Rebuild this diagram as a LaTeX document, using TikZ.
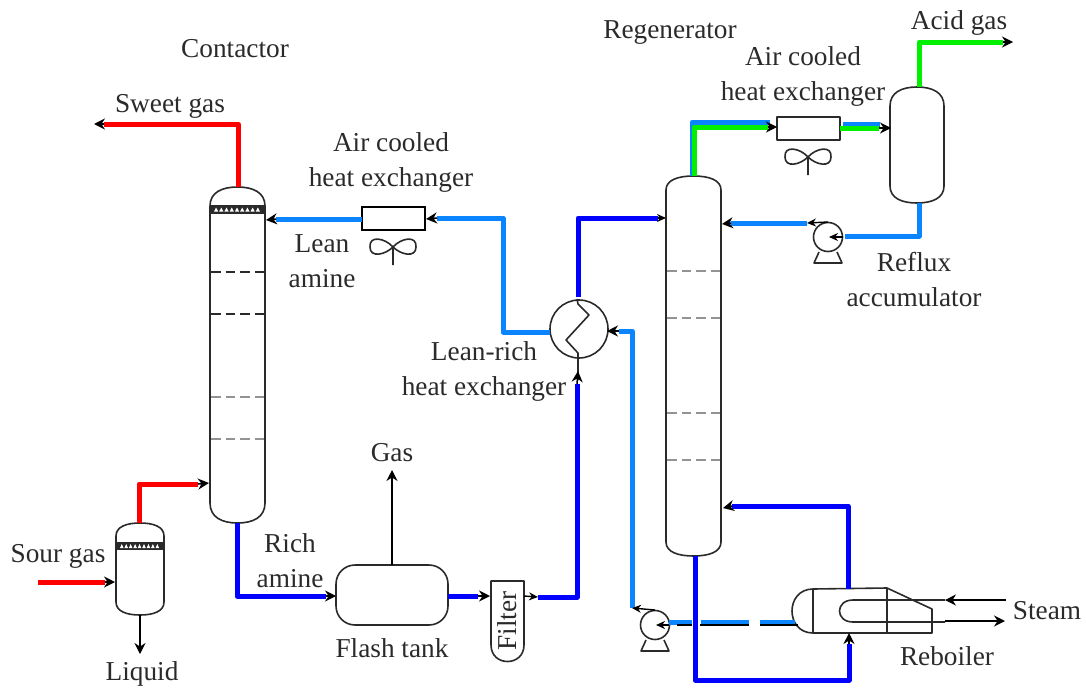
\documentclass[tikz,border=0pt]{standalone}
\usepackage{fontspec}
\setmainfont{Liberation Serif}
\usetikzlibrary{arrows.meta,calc}
\definecolor{ink}{HTML}{2A2A2A}
\definecolor{lblue}{HTML}{0A84FF}
\definecolor{dblue}{HTML}{0000FF}
\definecolor{fred}{HTML}{FF0000}
\definecolor{fgreen}{HTML}{00F000}
\tikzset{
  equip/.style={draw=ink,line width=1.6pt,line join=round},
  heavy/.style={draw=black,line width=2pt},
  trayk/.style={draw=ink,line width=1.5pt,dash pattern=on 9.5pt off 5pt},
  trayg/.style={draw=gray!85,line width=1.5pt,dash pattern=on 9.5pt off 5pt},
  flowred/.style={draw=fred,line width=5pt,line join=round},
  flowblue/.style={draw=dblue,line width=5pt,line join=round},
  flowlight/.style={draw=lblue,line width=5pt,line join=round},
  flowgreen/.style={draw=fgreen,line width=5pt,line join=round},
  tip/.style={draw=black,line width=1.5pt,-{Stealth[length=11pt,width=11pt]}},
  smalltip/.style={draw=black,line width=1.4pt,-{Stealth[length=9pt,width=8pt]}},
  lbl/.style={text=ink,font=\fontsize{27.3}{35}\selectfont,inner sep=0pt,align=center},
  anchorbox/.style={inner sep=0pt,minimum size=0pt}
}
% vessel: name, left x, right x, top y, upper shoulder y, lower shoulder y, bottom y
\newcommand{\vesselshape}[7]{%
  \draw[equip] (#2,#5) .. controls (#2,{#5-0.72*(#5-#4)}) and ({#2+0.22*(#3-#2)},#4) .. ({(#2+#3)/2},#4)
    .. controls ({#3-0.22*(#3-#2)},#4) and (#3,{#5-0.72*(#5-#4)}) .. (#3,#5)
    -- (#3,#6) .. controls (#3,{#6+0.72*(#7-#6)}) and ({#3-0.22*(#3-#2)},#7) .. ({(#2+#3)/2},#7)
    .. controls ({#2+0.22*(#3-#2)},#7) and (#2,{#6+0.72*(#7-#6)}) .. (#2,#6) -- cycle;
  \node[anchorbox] (#1) at ({(#2+#3)/2},{(#4+#7)/2}) {};}
% packing band: left, right, top, bottom
\newcommand{\packband}[4]{%
  \fill[ink] (#1,#3) rectangle (#2,#4);
  \foreach \k in {0,...,8}{\fill[white] ({#1+4+\k*(#2-#1-8)/9},{(#3+#4)/2+2}) -- ({#1+4+(\k+0.4)*(#2-#1-8)/9},{(#3+#4)/2-2}) -- ({#1+4+(\k+0.8)*(#2-#1-8)/9},{(#3+#4)/2+2}) -- cycle;}}
% fan: centre x, y, stem end y
\newcommand{\fanshape}[3]{%
  \draw[equip] (#1,#2) .. controls ({#1-8},{#2-9}) and ({#1-24},{#2-12}) .. ({#1-23},#2)
    .. controls ({#1-23},{#2+11}) and ({#1-8},{#2+8}) .. (#1,#2)
    .. controls ({#1+8},{#2-9}) and ({#1+24},{#2-12}) .. ({#1+23},#2)
    .. controls ({#1+23},{#2+11}) and ({#1+8},{#2+8}) .. (#1,#2) -- (#1,#3);}
% pump: name, centre x, y
\newcommand{\pumpshape}[3]{%
  \node[equip,circle,minimum size=29pt,inner sep=0pt] (#1) at (#2,#3) {};
  \draw[equip] ({#2-9},{#3+15}) -- ({#2-14},{#3+26}) -- ({#2+14},{#3+26}) -- ({#2+9},{#3+15});}
\begin{document}
\begin{tikzpicture}[x=1pt,y=-1pt]
\useasboundingbox (0,0) rectangle (1086,688);
% ---------- contactor
\vesselshape{contactor}{210}{265}{187}{206}{503}{523}
\packband{210}{265}{205}{214}
\foreach \yy in {272,314} \draw[trayk] (211,\yy) -- (264,\yy);
\foreach \yy in {397,439} \draw[trayg] (211,\yy) -- (264,\yy);
% ---------- inlet separator
\vesselshape{scrubber}{116}{164}{523}{536}{602}{615}
\packband{116}{164}{542}{550}
% ---------- regenerator
\vesselshape{regen}{666}{721}{176}{190}{542}{556}
\foreach \yy in {271,318,413,460} \draw[trayg] (667,\yy) -- (720,\yy);
% ---------- accumulator
\vesselshape{accum}{890}{944}{87}{106}{186}{203}
% ---------- flash tank
\node[equip,draw,rounded corners=19pt,minimum width=112pt,minimum height=60pt,inner sep=0pt] (flash) at (392,595) {};
% ---------- filter
\draw[equip] (491,581) -- (524,581) -- (524,645) .. controls (524,667) and (491,667) .. (491,645) -- cycle;
\node[lbl,rotate=90] (filter) at (507.5,621) {Filter};
% ---------- heat exchangers
\node[draw=black,line width=2pt,minimum width=63pt,minimum height=23pt,inner sep=0pt] (aircoolA) at (393.5,218.5) {};
\fanshape{393}{247}{265}
\node[equip,minimum width=63pt,minimum height=23pt,inner sep=0pt] (aircoolB) at (808.5,128.5) {};
\fanshape{808}{157}{175}
\node[equip,circle,minimum size=58pt,inner sep=0pt] (lrhx) at (579,329) {};
\draw[equip] (577,299) -- (578,304) -- (589,315) -- (566,340) -- (578,353) -- (578,380);
% ---------- pumps
\pumpshape{pumpA}{828}{237}
\pumpshape{pumpB}{655}{625}
% ---------- reboiler
\draw[equip] (813,589) .. controls (785,589) and (785,633) .. (813,633) -- (932,633) -- (932,609) -- (887,588) -- (813,589) -- (813,633);
\draw[equip] (887,588) -- (887,633);
\draw[equip] (945,600) -- (853,600) .. controls (835,600) and (835,622) .. (853,622) -- (945,622);
\node[anchorbox] (reboiler) at (862,611) {};
% ---------- coordinates of the connector ends
\coordinate (sweetT) at (238,187);
\coordinate (sweetC) at (238,124);
\coordinate (sweetE) at (104,124);
\coordinate (sweetTip) at (94,124);
\coordinate (sourS) at (38,582);
\coordinate (sourE) at (105,582);
\coordinate (sourTip) at (115,582);
\coordinate (scrubT) at (139,523);
\coordinate (scrubC) at (139,484);
\coordinate (scrubE) at (198,484);
\coordinate (scrubTip) at (209,483);
\coordinate (scrubB) at (140,615);
\coordinate (liqE) at (140,654);
\coordinate (contB) at (237,523);
\coordinate (richC) at (237,596);
\coordinate (richE) at (326,596);
\coordinate (flashW) at (336,596);
\coordinate (flashN) at (392,565);
\coordinate (gasE) at (392,470);
\coordinate (flashE) at (448,596);
\coordinate (flashX) at (478,596);
\coordinate (filtW) at (490,596);
\coordinate (filtE) at (524,596);
\coordinate (filtX) at (538,597);
\coordinate (risC) at (577,597);
\coordinate (risE) at (577,384);
\coordinate (hxS) at (578,371);
\coordinate (hxTop) at (578,297);
\coordinate (topC) at (578,218);
\coordinate (topE) at (658,218);
\coordinate (topTip) at (666,218);
\coordinate (pumpBT) at (655,610);
\coordinate (pumpBC) at (632,608);
\coordinate (lbC) at (632,331);
\coordinate (lbE) at (619,331);
\coordinate (lbTip) at (607,331);
\coordinate (hxW) at (550,332);
\coordinate (lwC) at (503,332);
\coordinate (lwT) at (503,218);
\coordinate (lwE) at (437,218);
\coordinate (lwTip) at (426,219);
\coordinate (acAW) at (362,219);
\coordinate (acAX) at (276,219);
\coordinate (acATip) at (266,220);
\coordinate (regB) at (695,556);
\coordinate (rbC1) at (695,680);
\coordinate (rbC2) at (849,680);
\coordinate (rbE) at (849,644);
\coordinate (rbTip) at (849,633);
\coordinate (rbN) at (848,589);
\coordinate (rtC) at (848,506);
\coordinate (rtE) at (732,506);
\coordinate (rtTip) at (723,508);
% ---------- red
\draw[flowred] (sweetT) -- (sweetC) -- (sweetE);
\draw[tip] (sweetE) -- (sweetTip);
\draw[flowred] (sourS) -- (sourE);
\draw[tip] (sourE) -- (sourTip);
\draw[flowred] (scrubT) -- (scrubC) -- (scrubE);
\draw[tip] (scrubE) -- (scrubTip);
\draw[tip] (scrubB) -- (liqE);
% ---------- rich amine
\draw[flowblue] (contB) -- (richC) -- (richE);
\draw[tip] (richE) -- (flashW);
\draw[tip] (flashN) -- (gasE);
\draw[flowblue] (flashE) -- (flashX);
\draw[tip] (flashX) -- (filtW);
\draw[smalltip] (filtE) -- (filtX);
\draw[flowblue] (filtX) -- (risC) -- (risE);
\draw[tip] (risE) -- (hxS);
\draw[flowblue] (hxTop) -- (topC) -- (topE);
\draw[smalltip] (topE) -- (topTip);
% ---------- lean amine
\draw[flowlight] (pumpBC) -- (lbC) -- (lbE);
\draw[tip] (lbE) -- (lbTip);
\draw[smalltip] (pumpBT) -- (pumpBC);
\draw[flowlight] (hxW) -- (lwC) -- (lwT) -- (lwE);
\draw[tip] (lwE) -- (lwTip);
\draw[flowlight] (acAW) -- (acAX);
\draw[tip] (acAX) -- (acATip);
% ---------- reboiler loop
\coordinate (retA) at (795,622);
\coordinate (retB) at (760,622);
\coordinate (retC) at (749,622);
\coordinate (retD) at (701,622);
\coordinate (retE) at (692,622);
\coordinate (retF) at (669,622);
\coordinate (bkA) at (798,625);
\coordinate (bkB) at (760,625);
\coordinate (bkC) at (749,625);
\coordinate (bkD) at (700,625);
\coordinate (bkE) at (692,625);
\coordinate (bkF) at (677,625);
\coordinate (pumpBIn) at (656,625);
\draw[flowlight] (retA) -- (retB);
\draw[flowlight] (retC) -- (retD);
\draw[flowlight] (retE) -- (retF);
\draw[heavy] (bkA) -- (bkB);
\draw[heavy] (bkC) -- (bkD);
\draw[heavy] (bkE) -- (bkF);
\draw[smalltip] (669,625) -- (pumpBIn);
\draw[flowblue] (regB) -- (rbC1) -- (rbC2) -- (rbE);
\draw[tip] (rbE) -- (rbTip);
\draw[flowblue] (rbN) -- (rtC) -- (rtE);
\draw[tip] (rtE) -- (rtTip);
% ---------- overhead
\coordinate (regT) at (692,176);
\coordinate (ovC) at (692,122);
\coordinate (ovE) at (770,122);
\coordinate (gnS) at (694,176);
\coordinate (gnC) at (694,127);
\coordinate (gnE) at (768,127);
\coordinate (gnTip) at (777,127);
\coordinate (abE1) at (843,124);
\coordinate (abE2) at (880,124);
\coordinate (agE1) at (840,128);
\coordinate (agE2) at (879,128);
\coordinate (agTip) at (891,128);
\draw[flowlight] (regT) -- (ovC) -- (ovE);
\draw[flowgreen] (gnS) -- (gnC) -- (gnE);
\draw[tip] (gnE) -- (gnTip);
\draw[flowlight] (abE1) -- (abE2);
\draw[flowgreen] (agE1) -- (agE2);
\draw[tip] (agE2) -- (agTip);
\coordinate (acT) at (919,87);
\coordinate (acC) at (919,42);
\coordinate (acE) at (1003,42);
\coordinate (acTip) at (1013,42);
\draw[flowgreen] (acT) -- (acC) -- (acE);
\draw[tip] (acE) -- (acTip);
\coordinate (acB) at (919,203);
\coordinate (acR) at (919,236);
\coordinate (acP) at (845,236);
\draw[heavy] (919,238) -- (845,238);
\draw[flowlight] (acB) -- (acR) -- (acP);
\draw[smalltip] (843,237) -- (829,237);
\coordinate (paT) at (828,222);
\coordinate (paE) at (807,223);
\coordinate (paX) at (731,223);
\coordinate (paTip) at (722,224);
\draw[smalltip] (paT) -- (paE);
\draw[flowlight] (paE) -- (paX);
\draw[tip] (paX) -- (paTip);
% ---------- steam
\coordinate (stS) at (1006,600);
\coordinate (stE) at (945,600);
\coordinate (stO) at (945,621);
\coordinate (stF) at (1005,621);
\draw[tip] (stS) -- (stE);
\draw[tip] (stO) -- (stF);
% ---------- labels
\node[lbl] (tContactor) at (235,49) {Contactor};
\node[lbl] (tSweet) at (170,106) {Sweet gas};
\node[lbl] (tAirA) at (391,162) {Air cooled\\heat exchanger};
\node[lbl] (tLean) at (322,261) {Lean\\amine};
\node[lbl] (tLR) at (484,371) {Lean-rich\\heat exchanger};
\node[lbl] (tGas) at (392,453) {Gas};
\node[lbl] (tRich) at (290,561) {Rich\\amine};
\node[lbl] (tSour) at (58,556) {Sour gas};
\node[lbl] (tLiquid) at (142,674) {Liquid};
\node[lbl] (tFlash) at (392,648) {Flash tank};
\node[lbl] (tRegen) at (670,33) {Regenerator};
\node[lbl] (tAirB) at (803,76) {Air cooled\\heat exchanger};
\node[lbl] (tAcid) at (959,23) {Acid gas};
\node[lbl] (tReflux) at (914,280) {Reflux\\accumulator};
\node[lbl] (tSteam) at (1047,611) {Steam};
\node[lbl] (tReboiler) at (947,656) {Reboiler};
\end{tikzpicture}
\end{document}
